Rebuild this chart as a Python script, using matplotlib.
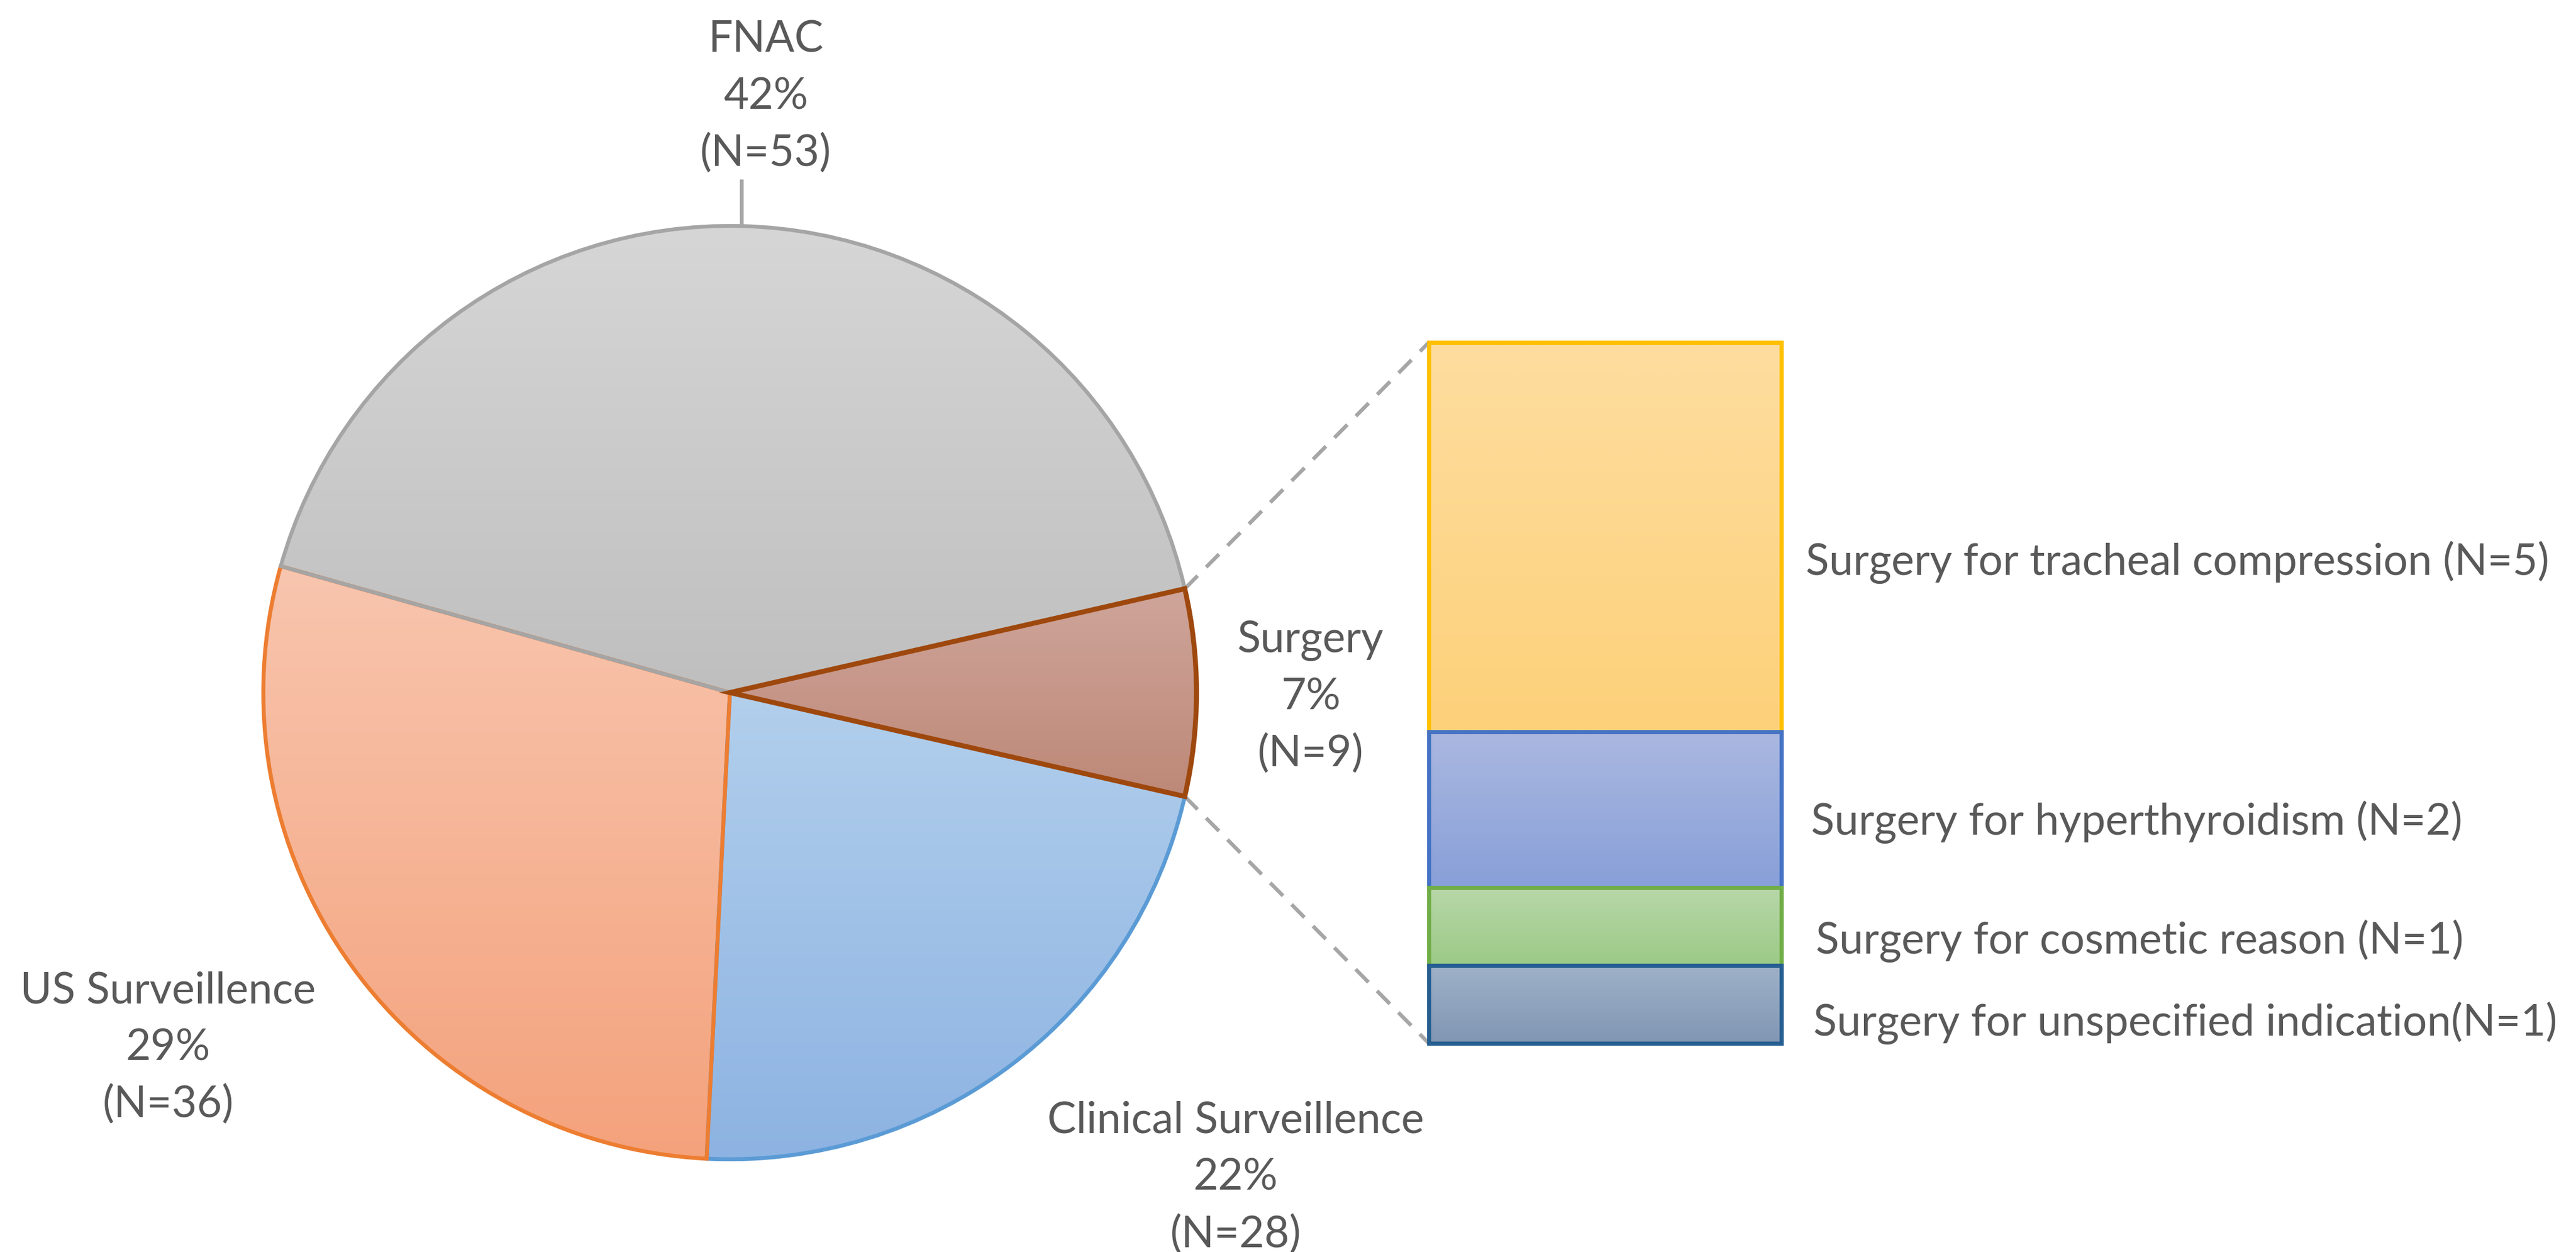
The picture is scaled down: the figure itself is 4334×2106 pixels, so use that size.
import numpy as np
import matplotlib
matplotlib.use("Agg")
import matplotlib.pyplot as plt
from matplotlib.colors import LinearSegmentedColormap

# ---------------- data ----------------
categories = ["Surgery", "FNAC", "US Surveillence", "Clinical Surveillence"]
counts = [9, 53, 36, 28]

sub_labels = [
    "Surgery for unspecified indication(N=1)",
    "Surgery for cosmetic reason (N=1)",
    "Surgery for hyperthyroidism (N=2)",
    "Surgery for tracheal compression (N=5)",
]
sub_counts = [1, 1, 2, 5]

# ---------------- styles ----------------
pie_top = ["#cfa59b", "#d6d6d6", "#f8c5ae", "#b2cfec"]
pie_bot = ["#bd8877", "#bfbfbf", "#f4a27c", "#8db3e2"]
pie_edge = ["#9e480e", "#a5a5a5", "#ed7d31", "#5b9bd5"]
pie_z = [6, 5, 4, 3]
pie_lw = [6.0, 4.6, 4.8, 4.8]

sub_top = ["#9eb1c8", "#b8d7a9", "#aab8e0", "#fddd9f"]
sub_bot = ["#8196b3", "#9bca86", "#889fd8", "#fdd17a"]
sub_edge = ["#255e91", "#70ad47", "#4472c4", "#ffc000"]
sub_z = [9, 8, 7, 6]

text_color = "#595959"
font = ["Lato", "DejaVu Sans"]

W, H = 4334, 2106
fig = plt.figure(figsize=(W / 100, H / 100), dpi=100)
ax = fig.add_axes([0, 0, 1, 1])

cx, cy, R = 1228, H - 1165, 785
total = sum(counts)
start = -360.0 * counts[0] / total / 2

wedges, _ = ax.pie(counts, center=(cx, cy), radius=R, startangle=start,
                   counterclock=True, frame=True,
                   wedgeprops=dict(facecolor="none"))
ax.set_xlim(0, W)
ax.set_ylim(0, H)
ax.set_aspect("auto")
ax.axis("off")

renderer = fig.canvas.get_renderer()


def grad_fill(axes, patch, top, bottom, z):
    bb = patch.get_window_extent(renderer).transformed(axes.transData.inverted())
    cmap = LinearSegmentedColormap.from_list("g", [top, bottom])
    img = np.linspace(0, 1, 256).reshape(-1, 1)
    im = axes.imshow(img, cmap=cmap, extent=(bb.x0, bb.x1, bb.y0, bb.y1),
                     origin="upper", aspect="auto", zorder=z, interpolation="bilinear")
    im.set_clip_path(patch)


for w, t, b, e, z, lw in zip(wedges, pie_top, pie_bot, pie_edge, pie_z, pie_lw):
    w.set_edgecolor(e)
    w.set_linewidth(lw)
    w.set_zorder(10 + z)
    w.set_joinstyle("miter")
    grad_fill(ax, w, t, b, 1)

ax.set_xlim(0, W)
ax.set_ylim(0, H)

# ---------------- bar of pie ----------------
bx0, bx1, by_top, by_bot = 2404, 2997, 576, 1755
bax = fig.add_axes([bx0 / W, (H - by_bot) / H, (bx1 - bx0) / W, (by_bot - by_top) / H])
bottoms = np.concatenate([[0], np.cumsum(sub_counts)[:-1]])
bars = bax.bar(0, sub_counts, bottom=bottoms, width=1.0, facecolor="none")
bax.set_xlim(-0.5, 0.5)
bax.set_ylim(0, sum(sub_counts))
bax.axis("off")
for bar, t, b, e, z in zip(bars, sub_top, sub_bot, sub_edge, sub_z):
    bar.set_edgecolor(e)
    bar.set_linewidth(5.0)
    bar.set_zorder(10 + z)
    bar.set_clip_on(False)
    bar.set_joinstyle("miter")
    grad_fill(bax, bar, t, b, 1)
bax.set_xlim(-0.5, 0.5)
bax.set_ylim(0, sum(sub_counts))

# ---------------- connector lines ----------------
inv = ax.transData.inverted()
top_corner = inv.transform(bax.transData.transform((-0.5, sum(sub_counts))))
bot_corner = inv.transform(bax.transData.transform((-0.5, 0)))
a1 = np.deg2rad(start + 360.0 * counts[0] / total)
a0 = np.deg2rad(start)
p_up = (cx + R * np.cos(a1), cy + R * np.sin(a1))
p_dn = (cx + R * np.cos(a0), cy + R * np.sin(a0))
for p, c in [(p_up, top_corner), (p_dn, bot_corner)]:
    ax.plot([p[0], c[0]], [p[1], c[1]], color="#a6a6a6", lw=4.6,
            dashes=(4.8, 3.2), dash_capstyle="butt", zorder=2)

# FNAC leader line
amid = np.deg2rad(start + 360.0 * (counts[0] + counts[1] / 2) / total)
lx = cx + R * np.cos(amid)
ax.plot([lx, lx], [cy + R * np.sin(amid), H - 302], color="#a6a6a6", lw=4.6,
        solid_capstyle="butt", zorder=2)

# ---------------- font size calibration ----------------
probe = ax.text(0, 0, sub_labels[0], fontsize=50, family=font)
wprobe = probe.get_window_extent(renderer).width
probe.remove()
fs = 50 * 1251.0 / wprobe

# ---------------- pie labels ----------------
label_pos = {  # center x, first baseline y (pixels from top)
    "Surgery": (2205, 1097),
    "FNAC": (1288, 87),
    "US Surveillence": (283, 1687),
    "Clinical Surveillence": (2079, 1906),
}
line_gap = 96
for cat, n in zip(categories, counts):
    x, y = label_pos[cat]
    pct = round(100 * n / total)
    for i, s in enumerate([cat, f"{pct}%", f"(N={n})"]):
        ax.text(x, H - (y + i * line_gap), s, ha="center", va="baseline",
                fontsize=fs, color=text_color, family=font, zorder=30)

# ---------------- bar labels ----------------
sub_pos = [(3051, 1742), (3055, 1604), (3047, 1404), (3038, 967)]
for s, (x, y) in zip(sub_labels, sub_pos):
    ax.text(x, H - y, s, ha="left", va="baseline", fontsize=fs,
            color=text_color, family=font, zorder=30)

fig.savefig("out.png", dpi=100, facecolor="white")
